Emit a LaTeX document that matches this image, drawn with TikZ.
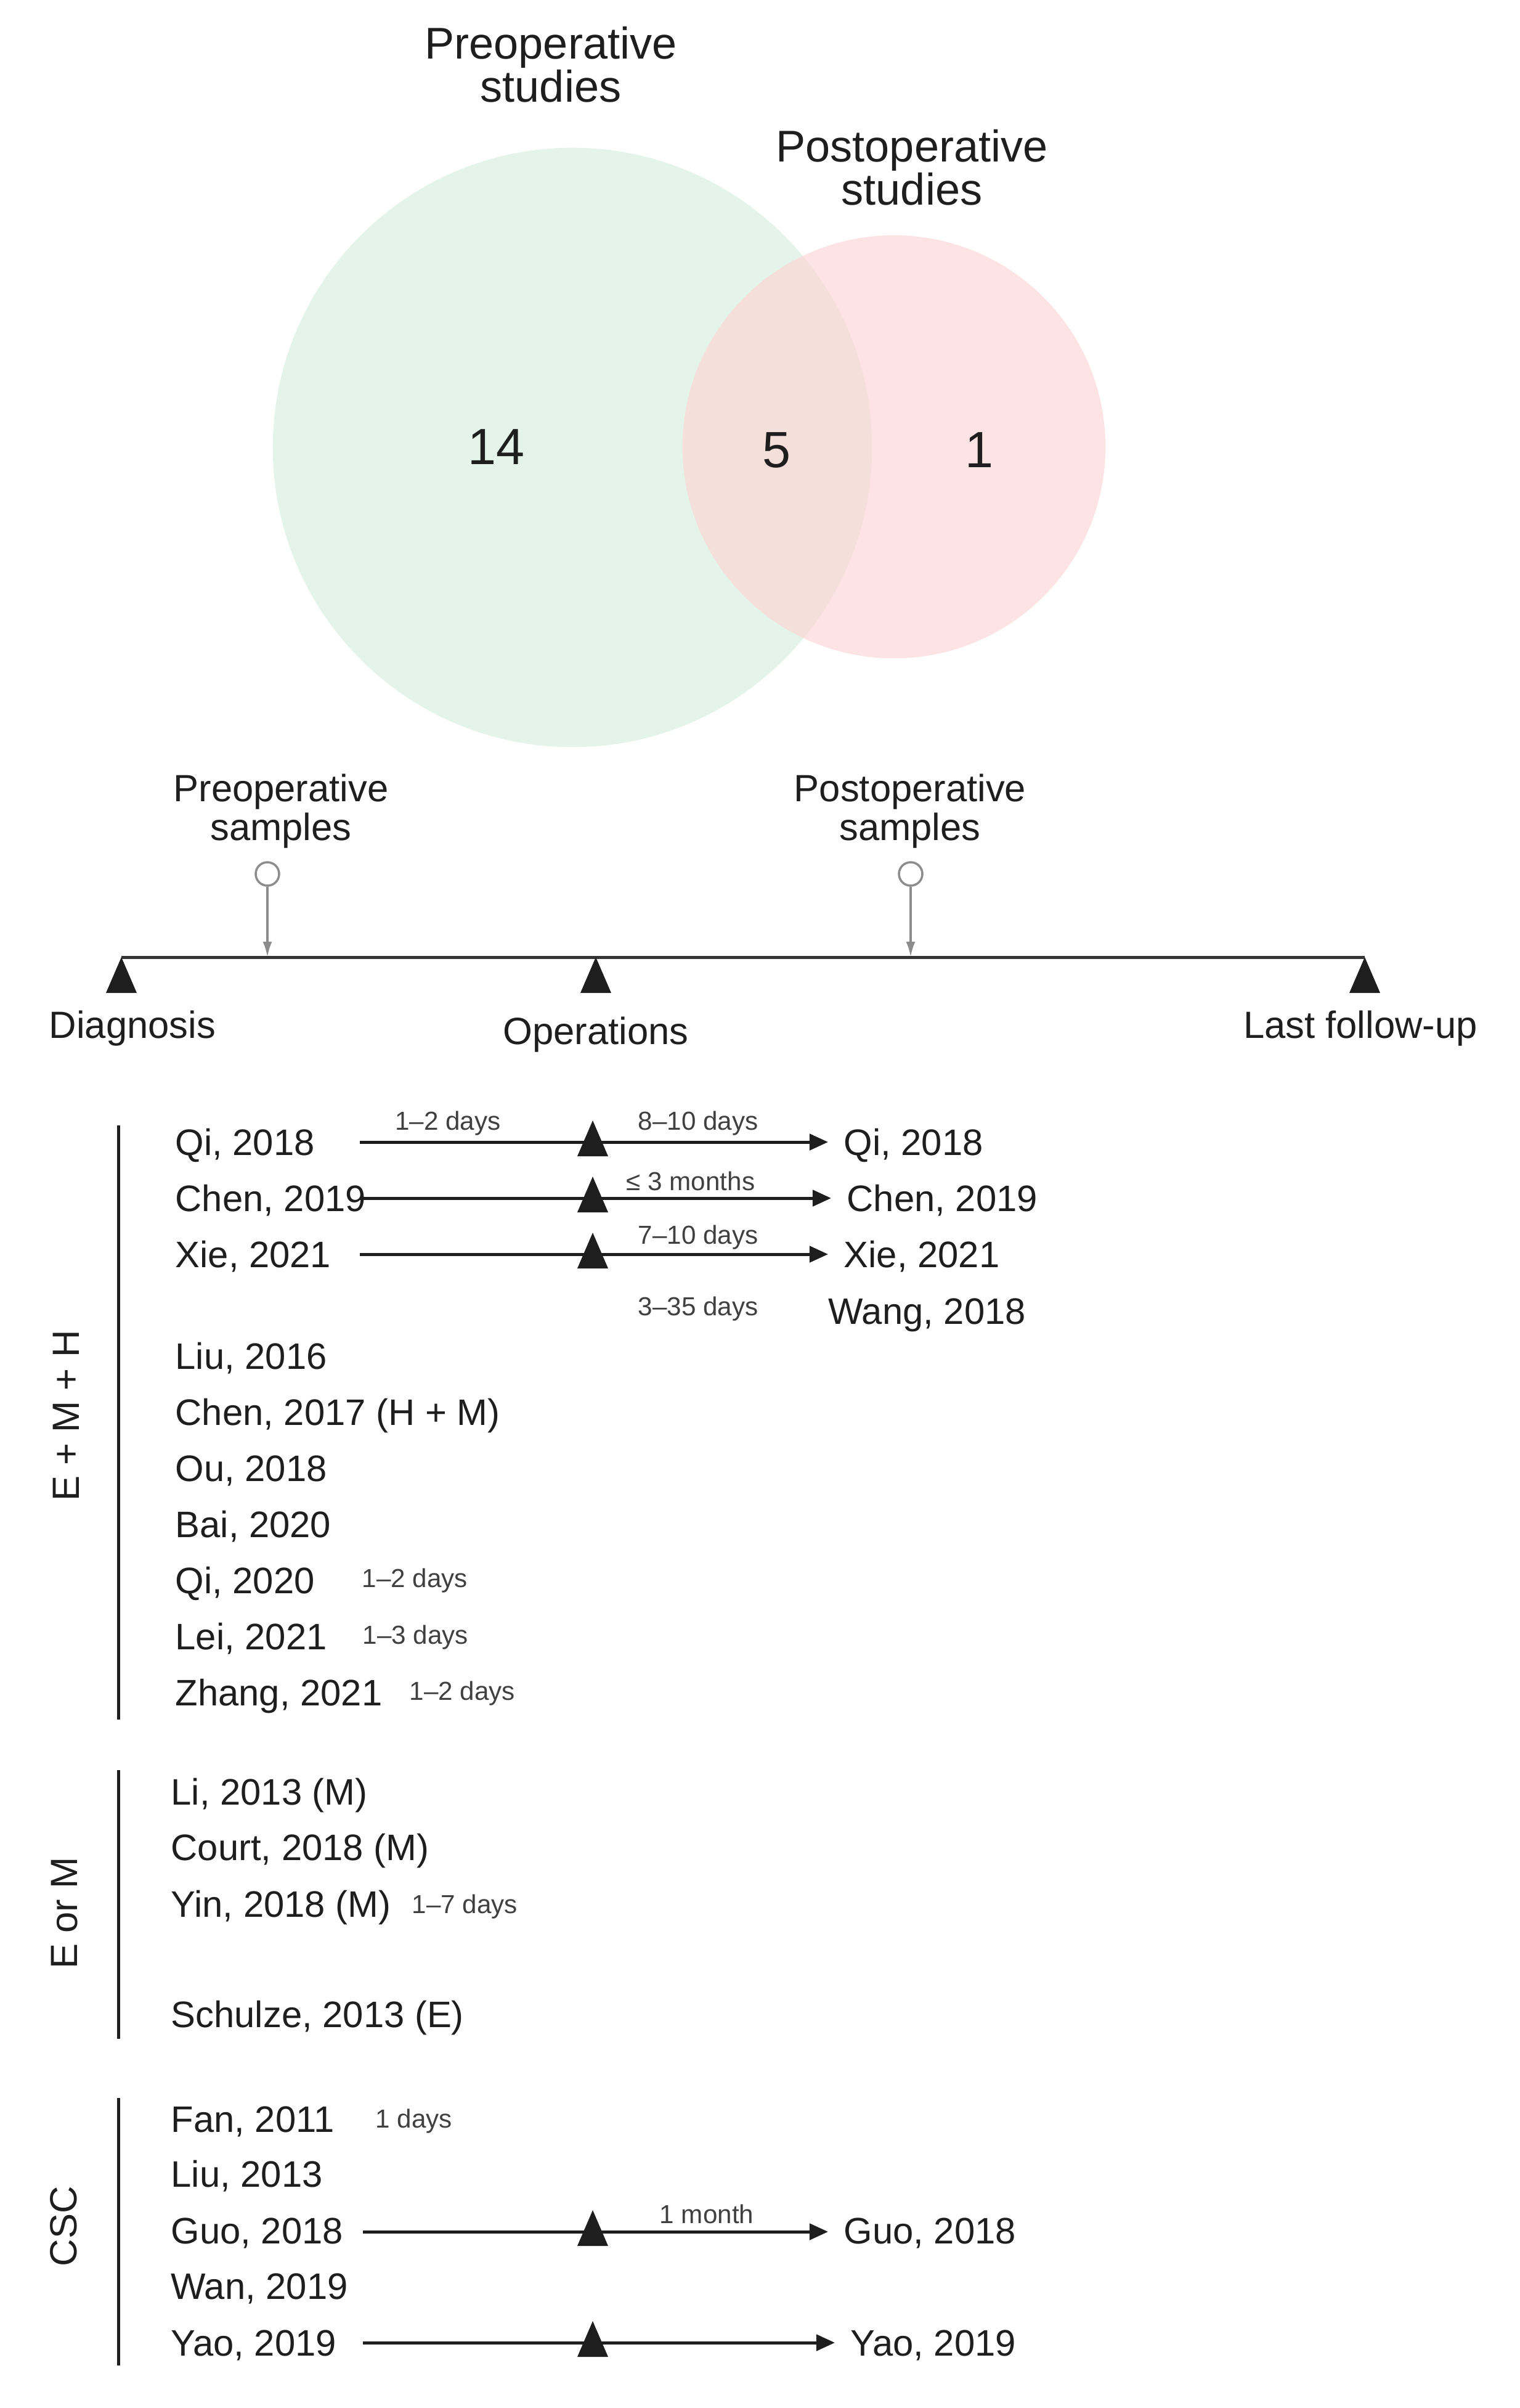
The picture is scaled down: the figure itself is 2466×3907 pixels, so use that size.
\documentclass[tikz,border=0pt]{standalone}
\usepackage{fontspec}
\setmainfont{Liberation Sans}
\usetikzlibrary{arrows.meta}
\usetikzlibrary{calc}

\definecolor{preGreen}{HTML}{E4F4EA}
\definecolor{postPink}{HTML}{FDE3E3}
\definecolor{bothMix}{HTML}{F4DFDA}
\definecolor{inkDark}{HTML}{1E1E1E}
\definecolor{pinGray}{HTML}{8C8C8C}

\tikzset{
  optri/.pic={\fill[inkDark] (-25,58) -- (0,0) -- (25,58) -- cycle;},
}

\begin{document}
\begin{tikzpicture}[x=0.01cm, y=-0.01cm,
    every node/.style={text=inkDark},
    vennhead/.style={align=center, font=\fontsize{20.5}{20}\selectfont},
    vennnum/.style={font=\fontsize{23.5}{26}\selectfont},
    tlabel/.style={align=center, font=\fontsize{17.5}{18}\selectfont},
    tline/.style={draw=inkDark!90, line width=0.05cm},
    samplept/.style={circle, draw=pinGray, line width=1pt, fill=white, minimum size=0.38cm, inner sep=0pt},
    samplearrow/.style={draw=pinGray, line width=1.1pt, -{Latex[length=0.25cm,width=0.15cm]}},
    groupbar/.style={draw=inkDark, line width=0.05cm},
    grouplabel/.style={rotate=90, font=\fontsize{17.5}{20}\selectfont},
    study/.style={anchor=base west, inner sep=0pt, font=\fontsize{17}{20}\selectfont},
    daygap/.style={inner sep=0pt, text=inkDark!85, font=\fontsize{12}{14}\selectfont},
    rowarrow/.style={draw=inkDark, line width=0.05cm, -{Triangle[length=0.3cm,width=0.26cm]}, shorten >=0.25cm}]
  \path[use as bounding box] (0,0) rectangle (2466,3907);

  % venn
  \fill[preGreen] (929,726) circle (4.86cm);
  \fill[postPink] (1451,725) circle (3.43cm);
  \begin{scope}
    \clip (929,726) circle (4.86cm);
    \fill[bothMix] (1451,725) circle (3.43cm);
  \end{scope}
  \node[vennhead] (preT) at (894,105) {Preoperative\\studies};
  \node[vennhead] (postT) at (1480,272) {Postoperative\\studies};
  \node[vennnum] (nPre) at (805,725) {14};
  \node[vennnum] (nBoth) at (1260,730) {5};
  \node[vennnum] (nPost) at (1589,730) {1};

  % timeline
  \coordinate (diag) at (197,1553);
  \coordinate (oper) at (967,1553);
  \coordinate (last) at (2215,1553);
  \draw[tline] (diag) -- (last);
  \pic at (diag) {optri};
  \pic at (oper) {optri};
  \pic at (last) {optri};
  \node[tlabel, anchor=base] (diagL) at (215,1684) {Diagnosis};
  \node[tlabel, anchor=base] (operL) at (967,1694) {Operations};
  \node[tlabel, anchor=base] (lastL) at (2208,1684) {Last follow-up};

  \node[samplept] (preS) at (434,1418) {};
  \node[samplept] (postS) at (1478,1418) {};
  \draw[samplearrow] (preS) -- (preS |- diag);
  \draw[samplearrow] (postS) -- (postS |- diag);
  \node[tlabel] (preSL) at (456,1316) {Preoperative\\samples};
  \node[tlabel] (postSL) at (1477,1316) {Postoperative\\samples};

  % E + M + H
  \draw[groupbar] (192,1826) -- (192,2790);
  \node[grouplabel] (gEMH) at (107,2297) {E + M + H};
  \node[study] (qiL) at (284,1874) {Qi, 2018};
  \node[study] (chenL) at (284,1965) {Chen, 2019};
  \node[study] (xieL) at (284,2056) {Xie, 2021};
  \node[study] (liuA) at (284,2221) {Liu, 2016};
  \node[study] (chenA) at (284,2312) {Chen, 2017 (H + M)};
  \node[study] (ouA) at (284,2403) {Ou, 2018};
  \node[study] (baiA) at (284,2494) {Bai, 2020};
  \node[study] (qiA) at (284,2585) {Qi, 2020};
  \node[study] (leiA) at (284,2676) {Lei, 2021};
  \node[study] (zhangA) at (284,2767) {Zhang, 2021};

  \node[study] (qiR) at (1369,1874) {Qi, 2018};
  \node[study] (chenR) at (1374,1965) {Chen, 2019};
  \node[study] (xieR) at (1369,2056) {Xie, 2021};
  \node[study] (wangR) at (1344,2148) {Wang, 2018};

  \coordinate (qiS) at (584,1853);
  \coordinate (chenS) at (584,1944);
  \coordinate (xieS) at (584,2035);
  \draw[rowarrow] (qiS) -- (qiS -| qiR.west);
  \draw[rowarrow] (chenS) -- (chenS -| chenR.west);
  \draw[rowarrow] (xieS) -- (xieS -| xieR.west);
  \pic at (962,1818) {optri};
  \pic at (962,1909) {optri};
  \pic at (962,2000) {optri};

  \node[daygap] (qiPre) at (727,1823) {1–2 days};
  \node[daygap] (qiPost) at (1133,1823) {8–10 days};
  \node[daygap] (chenPost) at (1121,1916) {≤ 3 months};
  \node[daygap] (xiePost) at (1133,2008) {7–10 days};
  \node[daygap] (wangPost) at (1133,2124) {3–35 days};
  \node[daygap, anchor=west] (qiAd) at (587,2565) {1–2 days};
  \node[daygap, anchor=west] (leiAd) at (588,2657) {1–3 days};
  \node[daygap, anchor=west] (zhangAd) at (664,2748) {1–2 days};

  % E or M
  \draw[groupbar] (192,2872) -- (192,3308);
  \node[grouplabel] (gEM) at (105,3104) {E or M};
  \node[study] (liB) at (277,2928) {Li, 2013 (M)};
  \node[study] (courtB) at (277,3018) {Court, 2018 (M)};
  \node[study] (yinB) at (277,3110) {Yin, 2018 (M)};
  \node[study] (schulzeB) at (277,3289) {Schulze, 2013 (E)};
  \node[daygap, anchor=west] (yinBd) at (668,3094) {1–7 days};

  % CSC
  \draw[groupbar] (192,3404) -- (192,3838);
  \node[grouplabel] (gCSC) at (103,3612) {CSC};
  \node[study] (fanC) at (277,3459) {Fan, 2011};
  \node[study] (liuC) at (277,3548) {Liu, 2013};
  \node[study] (guoC) at (277,3640) {Guo, 2018};
  \node[study] (wanC) at (277,3730) {Wan, 2019};
  \node[study] (yaoC) at (277,3822) {Yao, 2019};
  \node[daygap, anchor=west] (fanCd) at (609,3442) {1 days};

  \node[study] (guoR) at (1369,3640) {Guo, 2018};
  \node[study] (yaoR) at (1380,3822) {Yao, 2019};
  \coordinate (guoS) at (589,3621);
  \coordinate (yaoS) at (589,3801);
  \draw[rowarrow] (guoS) -- (guoS -| guoR.west);
  \draw[rowarrow] (yaoS) -- (yaoS -| yaoR.west);
  \pic at (962,3586) {optri};
  \pic at (962,3766) {optri};
  \node[daygap] (guoPost) at (1147,3592) {1 month};
\end{tikzpicture}
\end{document}
